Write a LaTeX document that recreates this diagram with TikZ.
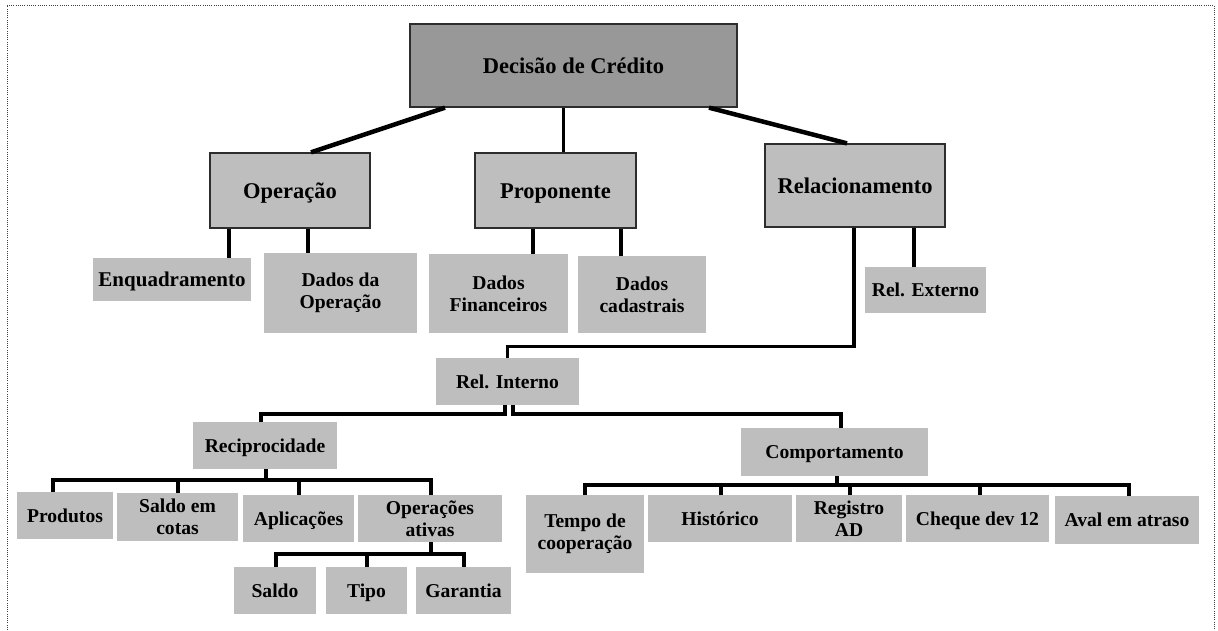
\documentclass[tikz,border=0pt]{standalone}
\usepackage{fontspec}
\setmainfont{Liberation Serif}
\definecolor{rootfill}{RGB}{152,152,152}
\definecolor{boxfill}{RGB}{190,190,190}
\definecolor{edgegray}{RGB}{45,45,45}
\begin{document}
\begin{tikzpicture}[x=1pt,y=-1pt,
  base/.style={rectangle, inner sep=0pt, align=center, font=\fontsize{19.6}{22}\selectfont\bfseries},
  rootbox/.style={base, fill=rootfill, draw=edgegray, line width=1.3pt,
    font=\fontsize{22.5}{25}\selectfont\bfseries, text height=15pt, text depth=0pt},
  catbox/.style={base, fill=boxfill, draw=edgegray, line width=1.3pt,
    font=\fontsize{22.5}{25}\selectfont\bfseries, text height=15pt, text depth=0pt},
  leaf/.style={base, fill=boxfill},
  word/.style={leaf, text height=13pt, text depth=0pt},
  bigword/.style={word, font=\fontsize{21}{23}\selectfont\bfseries, text height=14pt},
  link/.style={line width=3.5pt, line cap=butt},
  diag/.style={line width=4.5pt},
  frame/.style={line width=0.9pt, draw=black!75, dash pattern=on 1pt off 1.2pt}]
\useasboundingbox (0,0) rectangle (1218,630);

% dotted outer frame (open at the bottom)
\draw[frame] (7,630) -- (7,5) -- (1214,5) -- (1214,630);

% level 0 and 1
\node[rootbox, minimum width=327, minimum height=83] (top) at (573.5,65.5) {Decisão de Crédito};
\node[catbox, minimum width=160, minimum height=75] (op) at (290,190.5) {Operação};
\node[catbox, minimum width=161, minimum height=75] (prop) at (555.5,190.5) {Proponente};
\node[catbox, minimum width=180, minimum height=83] (rel) at (855,185.5) {Relacionamento};

% level 2
\node[bigword, minimum width=158, minimum height=43] (enq) at (172,279.5) {Enquadramento};
\node[leaf, minimum width=153, minimum height=80] (dop) at (340.5,293) {Dados da\\Operação};
\node[leaf, minimum width=139, minimum height=79] (dfin) at (498.5,293.5) {Dados\\Financeiros};
\node[leaf, minimum width=128, minimum height=77] (dcad) at (642,294.5) {Dados\\cadastrais};
\node[word, minimum width=121, minimum height=46] (rext) at (925.5,290) {Rel. Externo};
\node[word, minimum width=143, minimum height=47] (rint) at (507.5,381.5) {Rel. Interno};

% level 3
\node[word, minimum width=144, minimum height=47] (recip) at (265,445.5) {Reciprocidade};
\node[word, minimum width=187, minimum height=48] (comp) at (834.5,452) {Comportamento};

% level 4
\node[word, minimum width=96, minimum height=47] (prod) at (65,515.5) {Produtos};
\node[leaf, minimum width=121, minimum height=48] (saldoc) at (177.5,517) {Saldo em\\cotas};
\node[word, minimum width=111, minimum height=47] (aplic) at (298.5,518.5) {Aplicações};
\node[leaf, minimum width=144, minimum height=47] (opat) at (430,518.5) {Operações\\ativas};
\node[leaf, minimum width=118, minimum height=78] (tempo) at (585,534) {Tempo de\\cooperação};
\node[word, minimum width=144, minimum height=47] (hist) at (720,518.5) {Histórico};
\node[leaf, minimum width=106, minimum height=47] (reg) at (849,518.5) {Registro\\AD};
\node[word, minimum width=143, minimum height=47] (cheq) at (977.5,518.5) {Cheque dev 12};
\node[word, minimum width=144, minimum height=48] (aval) at (1127,520) {Aval em atraso};

% level 5
\node[word, minimum width=82, minimum height=47] (saldo) at (275,590.5) {Saldo};
\node[word, minimum width=81, minimum height=47] (tipo) at (366.5,590.5) {Tipo};
\node[word, minimum width=95, minimum height=47] (gar) at (463.5,590.5) {Garantia};

% connectors from the root
\draw[diag] ([xshift=-128.5]top.south) -- ([xshift=21]op.north);
\draw[line width=3pt] ([xshift=-10.5]top.south) -- ([xshift=7.5]prop.north);
\draw[diag] ([xshift=135.5]top.south) -- ([xshift=-8]rel.north);

% first-level children
\draw[link] ([xshift=-61]op.south) -- ([xshift=57]enq.north);
\draw[link] ([xshift=18]op.south) -- ([xshift=-32.5]dop.north);
\draw[link] ([xshift=-22.5]prop.south) -- ([xshift=34.5]dfin.north);
\draw[link] ([xshift=65.5]prop.south) -- ([xshift=-21]dcad.north);
\draw[link] ([xshift=59]rel.south) -- ([xshift=-11.5]rext.north);
\draw[link] ([xshift=-1]rel.south) -- ++(0,119) -| (rint.north);

% internal relationship
\draw[link] ([xshift=-2.5]rint.south) -- ++(0,9) -| ([xshift=-4]recip.north);
\draw[link] ([xshift=5.5]rint.south) -- ++(0,9) -| ([xshift=6.5]comp.north);

% reciprocity branch
\foreach \c/\dx in {prod/-12, saldoc/0.5, aplic/0.5, opat/1}
  \draw[link] ([xshift=1]recip.south) -- ++(0,11) -| ([xshift=\dx]\c.north);
\foreach \c/\dx in {saldo/1, tipo/0.5, gar/0.5}
  \draw[link] ([xshift=1]opat.south) -- ++(0,12) -| ([xshift=\dx]\c.north);

% behaviour branch
\foreach \c/\dx in {tempo/0, hist/1, reg/1, cheq/2.5, aval/2}
  \draw[link] ([xshift=2.5]comp.south) -- ++(0,9) -| ([xshift=\dx]\c.north);
\end{tikzpicture}
\end{document}
